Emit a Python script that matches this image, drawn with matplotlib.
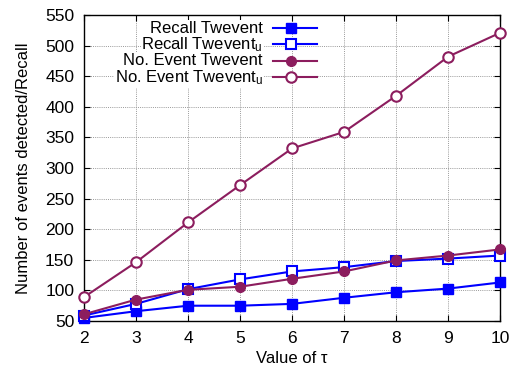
import matplotlib
matplotlib.use("Agg")
import matplotlib.pyplot as plt

plt.rcParams['font.family'] = ['Liberation Sans', 'DejaVu Sans']
plt.rcParams['mathtext.fontset'] = 'custom'
plt.rcParams['mathtext.rm'] = 'Liberation Sans'
plt.rcParams['mathtext.it'] = 'Liberation Sans'

tau = [2, 3, 4, 5, 6, 7, 8, 9, 10]
recall_twevent = [55, 66, 75, 75, 78, 88, 97, 103, 113]
recall_twevent_u = [59, 78, 102, 118, 131, 138, 148, 152, 157]
events_twevent = [61, 85, 101, 106, 119, 131, 149, 157, 167]
events_twevent_u = [89, 146, 211, 272, 332, 359, 418, 482, 521]

labels = ["Recall Twevent", "Recall Twevent$_\\mathrm{u}$",
          "No. Event Twevent", "No. Event Twevent$_\\mathrm{u}$"]
blue = "#0000ff"
purple = "#8c1d5e"
styles = [
    dict(color=blue, marker="s", mfc=blue, ms=7),
    dict(color=blue, marker="s", mfc="white", ms=7, mew=1.5),
    dict(color=purple, marker="o", mfc=purple, ms=7),
    dict(color=purple, marker="o", mfc="white", ms=7.5, mew=1.5),
]
series = [recall_twevent, recall_twevent_u, events_twevent, events_twevent_u]

fig = plt.figure(figsize=(5.12, 3.70), dpi=100)
ax = fig.add_axes([0.164, 0.1324, 0.813, 0.8271])

for ys, st in zip(series, styles):
    ax.plot(tau, ys, lw=1.5, zorder=3, clip_on=False, **st)

ax.set_xlim(2, 10)
ax.set_ylim(50, 550)
ax.set_xticks(tau)
ax.set_yticks(range(50, 551, 50))
ax.grid(True, color="#999999", linestyle=(0, (1, 1.2)), linewidth=0.7)
ax.set_axisbelow(True)
ax.tick_params(direction="in", top=True, right=True, length=4, labelsize=12.5)
ax.tick_params(axis="x", pad=7)
ax.tick_params(axis="y", pad=7)
for sp in ax.spines.values():
    sp.set_linewidth(1.0)

ax.set_xlabel("Value of τ", fontsize=12, labelpad=4)
ax.set_ylabel("Number of events detected/Recall", fontsize=12, labelpad=10)

# key, gnuplot style: labels right aligned, sample line to the right
row_y = [28.5, 44.5, 61, 77.5]
for lab, st, py in zip(labels, styles, row_y):
    yf = 1 - (py - 15) / 306
    ax.text(0.43, yf, lab, transform=ax.transAxes, ha="right", va="center",
            fontsize=12, zorder=5,
            bbox=dict(facecolor="white", edgecolor="none", pad=0.5))
    ax.plot([0.4543, 0.4976, 0.5601], [yf, yf, yf], transform=ax.transAxes,
            lw=1.5, markevery=[1], zorder=5, clip_on=False, **st)

fig.savefig("out.png", dpi=100)
